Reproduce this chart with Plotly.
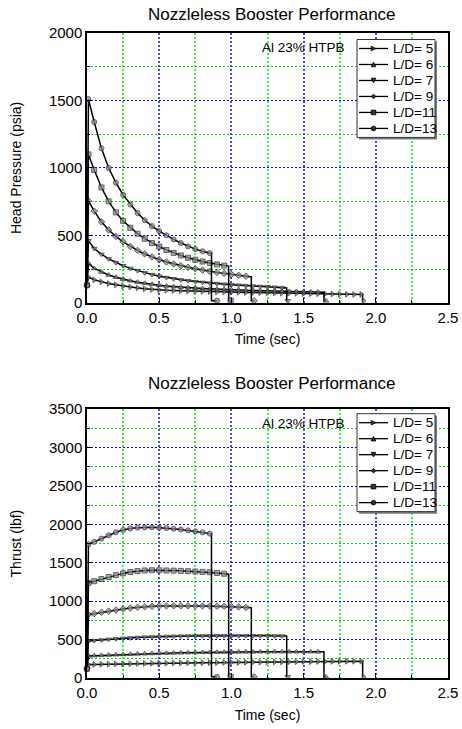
import plotly.graph_objects as go

# ---------------- data ----------------
time_grid = [0.00, 0.01, 0.05, 0.10, 0.15, 0.20, 0.25, 0.30, 0.35, 0.40, 0.45, 0.50,
             0.55, 0.60, 0.65, 0.70, 0.75, 0.80, 0.85, 0.90, 0.95, 1.00,
             1.05, 1.10, 1.15, 1.20, 1.25, 1.30, 1.35, 1.40, 1.45, 1.50,
             1.55, 1.60, 1.65, 1.70, 1.75, 1.80, 1.85, 1.90]

series_labels = ["L/D= 5", "L/D= 6", "L/D= 7", "L/D= 9", "L/D=11", "L/D=13"]
burnout_time = [1.909, 1.641, 1.383, 1.138, 0.981, 0.862]
empty_time = [1.915, 1.655, 1.390, 1.157, 0.995, 0.900]

pressure_ld5 = [130, 190, 170, 155, 143, 133, 124, 117, 110, 104, 99, 95,
                93, 91, 89, 87, 86, 84, 83, 81, 80, 79,
                78, 77, 76, 75, 74, 73, 72, 71, 70, 69,
                68, 67, 66, 65, 64, 63, 62, 62]
pressure_ld6 = [130, 292, 255, 228, 206, 189, 175, 163, 153, 144, 137, 130,
                125, 120, 116, 112, 109, 106, 103, 101, 99, 97,
                95, 93, 91, 90, 88, 87, 85, 84, 83, 82,
                81, 80]
pressure_ld7 = [130, 460, 402, 360, 326, 298, 275, 255, 238, 222, 209, 197,
                187, 178, 170, 163, 157, 151, 146, 142, 138, 134,
                130, 127, 124, 121, 118, 115, 112]
pressure_ld9 = [130, 755, 680, 600, 540, 492, 452, 418, 388, 362, 340, 320,
                303, 288, 275, 263, 252, 242, 233, 225, 218, 211,
                204, 197]
pressure_ld11 = [130, 1100, 985, 855, 752, 670, 607, 556, 512, 475, 443, 417,
                 392, 370, 351, 334, 319, 306, 295, 285, 276]
pressure_ld13 = [130, 1510, 1340, 1145, 1000, 890, 800, 728, 665, 612, 568, 532,
                 500, 470, 443, 418, 398, 382, 368]
pressure_at_burnout = [61, 79, 110, 192, 272, 366]
pressure_after = [15, 15, 15, 15, 15, 15]

thrust_ld5 = [120, 175, 177, 179, 181, 183, 185, 186, 188, 189, 191, 192,
              193, 195, 196, 197, 198, 199, 200, 201, 202, 203,
              204, 205, 206, 207, 208, 209, 210, 211, 212, 213,
              214, 215, 216, 216, 217, 218, 218, 219]
thrust_ld6 = [120, 288, 291, 295, 299, 303, 306, 310, 313, 316, 319, 321,
              324, 326, 328, 330, 332, 333, 334, 336, 337, 338,
              339, 340, 340, 341, 341, 342, 342, 342, 342, 342,
              342, 341]
thrust_ld7 = [120, 480, 487, 495, 503, 510, 516, 522, 527, 531, 535, 538,
              541, 543, 545, 547, 548, 549, 550, 550, 551, 551,
              551, 551, 550, 550, 549, 548, 547]
thrust_ld9 = [120, 825, 838, 855, 871, 885, 898, 910, 920, 928, 933, 937,
              939, 940, 940, 940, 939, 938, 937, 935, 933, 930,
              925, 918]
thrust_ld11 = [120, 1238, 1260, 1288, 1316, 1340, 1362, 1380, 1392, 1400, 1403, 1403,
               1400, 1398, 1395, 1391, 1387, 1382, 1377, 1368, 1358]
thrust_ld13 = [120, 1740, 1772, 1815, 1858, 1898, 1928, 1948, 1958, 1962, 1962, 1958,
               1952, 1943, 1933, 1922, 1910, 1896, 1880]
thrust_at_burnout = [219, 341, 546, 914, 1352, 1878]
thrust_after = [15, 15, 15, 15, 15, 15]

pressure_series = [pressure_ld5, pressure_ld6, pressure_ld7, pressure_ld9, pressure_ld11, pressure_ld13]
thrust_series = [thrust_ld5, thrust_ld6, thrust_ld7, thrust_ld9, thrust_ld11, thrust_ld13]

# ---------------- style / layout ----------------
W, H = 462, 729
PL, PR = 87, 448
TOP_Y0, TOP_Y1 = 32.5, 302.5
BOT_Y0, BOT_Y1 = 409, 678
symbols = ["triangle-right", "triangle-up", "triangle-down", "diamond", "square", "circle"]
FONT = "Arial, Liberation Sans, Helvetica, sans-serif"
MAJOR = "#0000ff"
MINOR = "#00e000"
MAJOR_V = "#4a4aff"
MINOR_V = "#44ee44"
GRID_DASH = "2px,2px"
MARKER_FILL = "#8a8a8a"
MARKER_EDGE = "#222222"

ml, mr, mt, mb = PL, W - PR, TOP_Y0, H - BOT_Y1
ph = H - mt - mb
pw = PR - PL


def py(y):
    return (H - mb - y) / ph


def px(x):
    return (x - PL) / pw


fig = go.Figure()


def add_series(values_list, burn_vals, after_vals, xa, ya):
    for i, vals in enumerate(values_list):
        n = len(vals)
        xs = time_grid[:n] + [burnout_time[i], burnout_time[i], empty_time[i]]
        ys = vals + [burn_vals[i], after_vals[i], after_vals[i]]
        sizes = [5] * n + [0, 0, 5]
        fig.add_trace(go.Scatter(
            x=xs, y=ys, mode="lines+markers", name=series_labels[i],
            xaxis=xa, yaxis=ya, cliponaxis=False, showlegend=False,
            line=dict(color="black", width=1.5),
            marker=dict(symbol=symbols[i], size=sizes, color=MARKER_FILL,
                        line=dict(color=MARKER_EDGE, width=1)),
        ))


add_series(pressure_series, pressure_at_burnout, pressure_after, "x", "y")
add_series(thrust_series, thrust_at_burnout, thrust_after, "x2", "y2")

shapes = []
annotations = []


def marker_shape(sym, cx, cy, r=2.3):
    base = dict(xref="paper", yref="paper", fillcolor="#333333",
                line=dict(color="black", width=0.8), layer="above")
    X = lambda v: px(v)
    Y = lambda v: py(v)
    if sym == "circle":
        return dict(type="circle", x0=X(cx - r), x1=X(cx + r), y0=Y(cy + r), y1=Y(cy - r), **base)
    if sym == "square":
        return dict(type="rect", x0=X(cx - r), x1=X(cx + r), y0=Y(cy + r), y1=Y(cy - r), **base)
    if sym == "diamond":
        pts = [(cx, cy - r), (cx + r, cy), (cx, cy + r), (cx - r, cy)]
    elif sym == "triangle-up":
        pts = [(cx, cy - r), (cx + r, cy + r), (cx - r, cy + r)]
    elif sym == "triangle-down":
        pts = [(cx, cy + r), (cx + r, cy - r), (cx - r, cy - r)]
    else:  # triangle-right
        pts = [(cx + r, cy), (cx - r, cy - r), (cx - r, cy + r)]
    path = "M " + " L ".join(f"{X(a):.5f},{Y(b):.5f}" for a, b in pts) + " Z"
    return dict(type="path", path=path, **base)


def add_legend(top):
    left, right = 357, 435
    bottom = top + 98
    shapes.append(dict(type="rect", xref="paper", yref="paper", layer="above",
                       x0=px(left + 2), x1=px(right + 2), y0=py(bottom + 2), y1=py(top + 2),
                       fillcolor="#7a7a7a", line=dict(width=0)))
    shapes.append(dict(type="rect", xref="paper", yref="paper", layer="above",
                       x0=px(left), x1=px(right), y0=py(bottom), y1=py(top),
                       fillcolor="white", line=dict(color="#333333", width=1)))
    for k, lab in enumerate(series_labels):
        yc = top + 9 + 16 * k
        shapes.append(dict(type="line", xref="paper", yref="paper", layer="above",
                           x0=px(359), x1=px(388), y0=py(yc), y1=py(yc),
                           line=dict(color="black", width=1.3)))
        shapes.append(marker_shape(symbols[k], 373.5, yc))
        annotations.append(dict(text=lab, x=px(391), y=py(yc), xref="paper", yref="paper",
                                showarrow=False, xanchor="left", yanchor="middle",
                                font=dict(size=13.5, family=FONT, color="black")))


add_legend(39)
add_legend(413.5)

for ty in (14, 383):
    annotations.append(dict(text="Nozzleless Booster Performance", x=px(272), y=py(ty),
                            xref="paper", yref="paper", showarrow=False,
                            font=dict(size=17, family=FONT), xanchor="center", yanchor="middle"))
for ay in (47.5, 423.5):
    annotations.append(dict(text="Al 23% HTPB", x=px(303), y=py(ay), xref="paper", yref="paper",
                            showarrow=False, font=dict(size=13.5, family=FONT),
                            xanchor="center", yanchor="middle"))

axis_common = dict(
    showline=True, linecolor="black", linewidth=1.5, mirror=True, automargin=False,
    showgrid=True, griddash=GRID_DASH,
    zeroline=False, ticks="inside", ticklen=5, tickcolor="black",
    tickfont=dict(family=FONT, size=15, color="black"),
)
x_grid = dict(gridcolor=MAJOR_V, gridwidth=2)
y_grid = dict(gridcolor=MAJOR, gridwidth=1)
minor_x = dict(dtick=0.25, showgrid=True, gridcolor=MINOR_V, griddash=GRID_DASH, gridwidth=2,
               ticks="inside", ticklen=3, tickcolor="black")
minor_y = dict(dtick=250, showgrid=True, gridcolor=MINOR, griddash=GRID_DASH, gridwidth=1,
               ticks="inside", ticklen=3, tickcolor="black")

fig.update_layout(
    width=W, height=H,
    margin=dict(l=ml, r=mr, t=mt, b=mb, pad=0, autoexpand=False),
    paper_bgcolor="white", plot_bgcolor="white",
    font=dict(family=FONT, color="black"),
    showlegend=False,
    xaxis=dict(domain=[0, 1], anchor="y", range=[0, 2.5], dtick=0.5, tickformat=".1f",
               minor=minor_x, title=dict(text="Time (sec)", font=dict(size=14), standoff=10),
               **x_grid, **axis_common),
    yaxis=dict(domain=[py(TOP_Y1), 1], anchor="x", range=[0, 2000], dtick=500,
               minor=minor_y, title=dict(text="Head Pressure (psia)", font=dict(size=14), standoff=24),
               **y_grid, **axis_common),
    xaxis2=dict(domain=[0, 1], anchor="y2", range=[0, 2.5], dtick=0.5, tickformat=".1f",
                minor=minor_x, title=dict(text="Time (sec)", font=dict(size=14), standoff=10),
                **x_grid, **axis_common),
    yaxis2=dict(domain=[0, py(BOT_Y0)], anchor="x2", range=[0, 3500], dtick=500,
                minor=minor_y, title=dict(text="Thrust (lbf)", font=dict(size=14), standoff=24),
                **y_grid, **axis_common),
    shapes=shapes,
    annotations=annotations,
)

fig.write_html("out.html")
